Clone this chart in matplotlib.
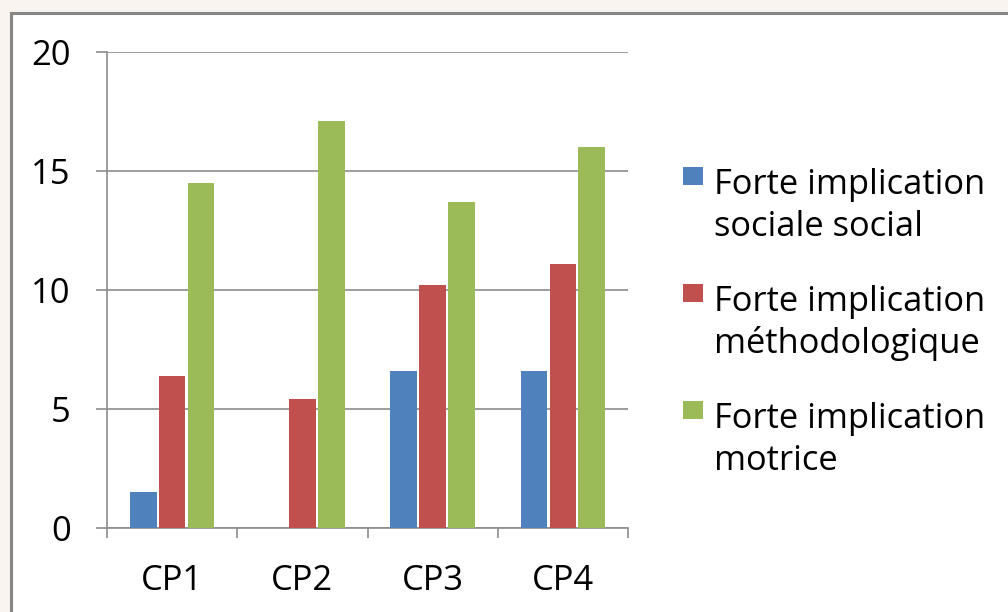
import matplotlib
matplotlib.use("Agg")
import matplotlib.pyplot as plt
import numpy as np
from matplotlib.patches import Rectangle

categories = ["CP1", "CP2", "CP3", "CP4"]
series_names = ["Forte implication\nsociale social",
                "Forte implication\nméthodologique",
                "Forte implication\nmotrice"]
sociale = [1.5, 0.0, 6.6, 6.6]
methodo = [6.4, 5.4, 10.2, 11.1]
motrice = [14.5, 17.1, 13.7, 16.0]
yticks = [0, 5, 10, 15, 20]

colors = ["#4f81bd", "#c0504d", "#9bbb59"]

plt.rcParams['font.family'] = ['Open Sans', 'DejaVu Sans']

W, H = 1008, 612
fig = plt.figure(figsize=(W / 100, H / 100), dpi=100)
fig.patch.set_facecolor("#f9f4ef")
# white frame
fig.patches.append(Rectangle((11/W, -0.1), 1.2, 1 - 13/H + 0.1,
                             transform=fig.transFigure, facecolor="white",
                             edgecolor="#868686", linewidth=2.2, zorder=-10))

ax = fig.add_axes([107/W, 1 - 528/H, (628-107)/W, (528-52)/H])
ax.set_facecolor("white")

FS = 24.8

x = np.arange(len(categories))
w = 0.205
step = 0.222
for i, (vals, c, name) in enumerate(zip([sociale, methodo, motrice], colors, series_names)):
    ax.bar(x + (i - 1) * step, vals, width=w, color=c, label=name, zorder=3)

ax.set_xlim(-0.5, 3.5)
ax.set_ylim(0, 20)
ax.set_yticks(yticks)
ax.set_yticklabels([str(t) for t in yticks], fontsize=FS)
ax.yaxis.grid(True, color="#8c8c8c", linewidth=1.2, zorder=0)
ax.tick_params(axis='y', length=8, width=1.2, color="#8c8c8c", pad=18)

ax.set_xticks(np.arange(-0.5, 4.0, 1.0))
ax.set_xticklabels([])
ax.tick_params(axis='x', which='major', length=7.5, width=1.2, color="#8c8c8c")
ax.set_xticks(x, minor=True)
ax.set_xticklabels(categories, minor=True, fontsize=FS)
ax.tick_params(axis='x', which='minor', length=0, pad=26)

for s in ["top", "right"]:
    ax.spines[s].set_visible(False)
for s in ["left", "bottom"]:
    ax.spines[s].set_color("#8c8c8c")
    ax.spines[s].set_linewidth(1.2)

# legend (square aligned with first line of each label)
entry_gap = 117   # px between entries
line_gap = 42     # px between lines
for i, (name, c) in enumerate(zip(series_names, colors)):
    top = 167 + i * entry_gap
    fig.patches.append(Rectangle((683/W, 1 - (top + 18)/H), 20/W, 18/H,
                                 transform=fig.transFigure, facecolor=c,
                                 edgecolor="none", zorder=5))
    for j, line in enumerate(name.split("\n")):
        base = 194 + i * entry_gap + j * line_gap
        fig.text(714/W, 1 - base/H, line, fontsize=FS, va="baseline",
                 ha="left", color="black")

fig.savefig("out.png", dpi=100, facecolor=fig.get_facecolor())
